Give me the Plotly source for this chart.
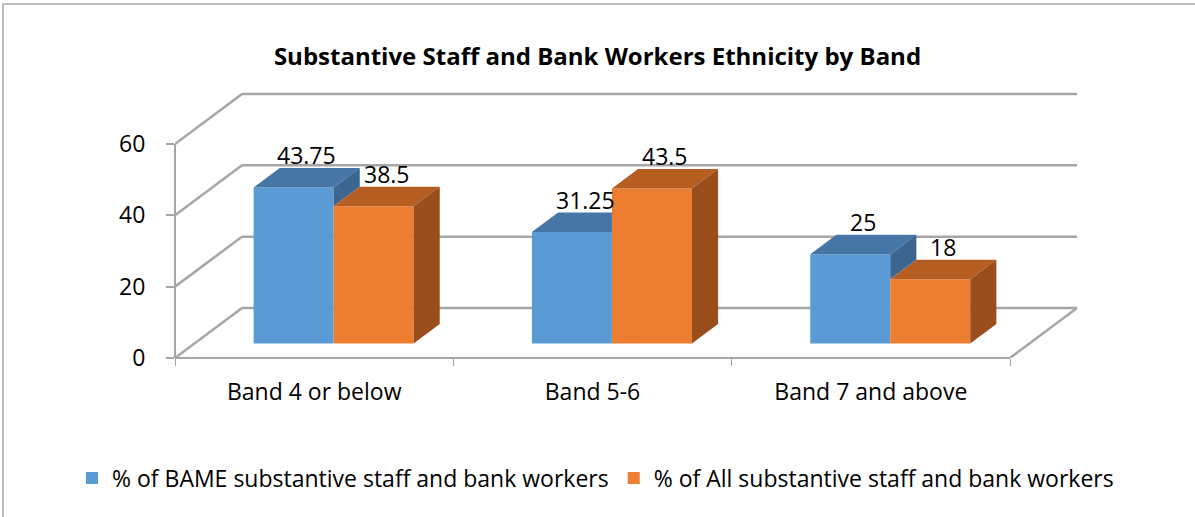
import plotly.graph_objects as go

# ---------------- data ----------------
categories = ["Band 4 or below", "Band 5-6", "Band 7 and above"]
series_names = ["% of BAME substantive staff and bank workers",
                "% of All substantive staff and bank workers"]
bame_values = [43.75, 31.25, 25]
all_values = [38.5, 43.5, 18]
value_ticks = [0, 20, 40, 60]
value_max = 60

# ---------------- style ----------------
FRONT = ["#5B9BD5", "#ED7D31"]
TOP = ["#4676A6", "#B65D22"]
SIDE = ["#3B6690", "#9A4E1C"]
GRID = "#A6A6A6"
FONT = "Open Sans"
FS = 23

W, H = 1195, 517
ML, MR, MT, MB = 175, 105, 87, 159
plot_w = W - ML - MR
plot_h = H - MT - MB
n = len(categories)
px_per_cat = 835 / n
x_lo = -0.5
x_hi = x_lo + plot_w / px_per_cat
y_hi = 76.0
px_per_val = plot_h / y_hi

# pseudo-3D geometry (in axis units)
wall_dx = 67 / px_per_cat
wall_dy = 50 / px_per_val
bar_w = 80 / px_per_cat
f_front, f_back = 0.29, 0.68
bx0 = f_front * wall_dx
by0 = f_front * wall_dy
ddx = (f_back - f_front) * wall_dx
ddy = (f_back - f_front) * wall_dy
slope = ddy / ddx
x_first, x_last = -0.5, n - 0.5

fig = go.Figure()


def poly(xs, ys, color):
    fig.add_trace(go.Scatter(x=list(xs) + [xs[0]], y=list(ys) + [ys[0]],
                             fill="toself", fillcolor=color, mode="lines",
                             line=dict(width=0), hoverinfo="skip",
                             showlegend=False))


series = [bame_values, all_values]

# front faces as bars
for s, vals in enumerate(series):
    xc = [i + (s - 1) * bar_w + bx0 + bar_w / 2 for i in range(n)]
    fig.add_trace(go.Bar(x=xc, y=vals, base=by0, width=bar_w,
                         marker=dict(color=FRONT[s], line=dict(width=0)),
                         name=series_names[s], hoverinfo="skip"))

# top and side faces
for i in range(n):
    vo = all_values[i]
    for s, vals in enumerate(series):
        v = vals[i]
        xl = i + (s - 1) * bar_w + bx0
        xr = xl + bar_w
        h = by0 + v
        if s == 0:
            # left bar: part may be hidden by the right neighbour
            ho = by0 + vo
            if v >= vo:
                poly([xl, xr, xr + ddx, xl + ddx], [h, h, h + ddy, h + ddy], TOP[s])
                poly([xr, xr, xr + ddx, xr + ddx],
                     [ho, h, h + ddy, ho + ddy], SIDE[s])
            else:
                xs = [xl, xr, xr]
                ys = [h, h, min(ho, h + ddy)]
                if ho < h + ddy:
                    xs.append(xr + (h + ddy - ho) / slope)
                    ys.append(h + ddy)
                xs.append(xl + ddx)
                ys.append(h + ddy)
                poly(xs, ys, TOP[s])
        else:
            poly([xl, xr, xr + ddx, xl + ddx], [h, h, h + ddy, h + ddy], TOP[s])
            poly([xr, xr, xr + ddx, xr + ddx],
                 [by0, h, h + ddy, by0 + ddy], SIDE[s])

# dummy trace so the decorated axes (x2/y2) are drawn
fig.add_trace(go.Scatter(x=[None], y=[None], xaxis="x2", yaxis="y2",
                         showlegend=False, hoverinfo="skip"))

# walls / gridlines as shapes under the bars
shapes = []
for t in value_ticks:
    shapes.append(dict(type="line", xref="x", yref="y", layer="below",
                       x0=x_first + wall_dx, y0=t + wall_dy,
                       x1=x_last + wall_dx, y1=t + wall_dy,
                       line=dict(color=GRID, width=2.5)))
    shapes.append(dict(type="line", xref="x", yref="y", layer="below",
                       x0=x_first, y0=t, x1=x_first + wall_dx, y1=t + wall_dy,
                       line=dict(color=GRID, width=2.5)))
shapes.append(dict(type="line", xref="x", yref="y", layer="below",
                   x0=x_last, y0=0, x1=x_last + wall_dx, y1=wall_dy,
                   line=dict(color=GRID, width=2.5)))
# outer frame
shapes.append(dict(type="rect", xref="paper", yref="paper",
                   x0=(3 - ML) / plot_w, x1=(1200 - ML) / plot_w,
                   y0=(H - MB - 522) / plot_h, y1=(H - MB - 4) / plot_h,
                   line=dict(color="#A6A6A6", width=1.5)))

# value labels
annotations = []
for s, vals in enumerate(series):
    for i, v in enumerate(vals):
        xl = i + (s - 1) * bar_w + bx0
        annotations.append(dict(x=xl + bar_w / 2 + ddx / 2, y=by0 + v + ddy,
                                xref="x", yref="y", text=f"{v:g}",
                                showarrow=False, yanchor="middle", yshift=13,
                                font=dict(family=FONT, size=FS, color="black")))

fig.update_layout(
    width=W, height=H,
    margin=dict(l=ML, r=MR, t=MT, b=MB, pad=0),
    paper_bgcolor="white", plot_bgcolor="rgba(0,0,0,0)",
    barmode="overlay",
    title=dict(text="<b>Substantive Staff and Bank Workers Ethnicity by Band</b>",
               x=0.5, xref="container", xanchor="center",
               y=1 - 57 / H, yref="container", yanchor="middle",
               font=dict(family=FONT, size=24, color="black")),
    xaxis=dict(range=[x_lo, x_hi], visible=False),
    yaxis=dict(range=[0, y_hi], visible=False),
    xaxis2=dict(domain=[0, 835 / plot_w], range=[x_first, x_last],
                anchor="free", position=0,
                tickvals=list(range(n)), ticktext=categories, ticks="",
                showline=True, linecolor=GRID, linewidth=2,
                showgrid=False, zeroline=False, ticklabelstandoff=13,
                minor=dict(tickvals=[x_first + k for k in range(n + 1)],
                           ticks="outside", ticklen=7, tickcolor=GRID,
                           tickwidth=1, showgrid=False),
                tickfont=dict(family=FONT, size=FS, color="black")),
    yaxis2=dict(domain=[0, value_max / y_hi], range=[0, value_max],
                anchor="free", position=0,
                tickvals=value_ticks, ticks="outside", ticklen=8,
                tickcolor=GRID, tickwidth=2,
                showline=True, linecolor=GRID, linewidth=2,
                showgrid=False, zeroline=False, ticklabelstandoff=16,
                tickfont=dict(family=FONT, size=FS, color="black")),
    showlegend=True,
    legend=dict(orientation="h", x=(72 - ML) / plot_w, xanchor="left",
                y=(H - MB - 478) / plot_h, yanchor="middle",
                font=dict(family=FONT, size=FS, color="black"),
                bgcolor="rgba(0,0,0,0)"),
    shapes=shapes, annotations=annotations,
)

fig.write_html("out.html", config={"displayModeBar": False},
               post_script="document.body.style.margin='0px';")
